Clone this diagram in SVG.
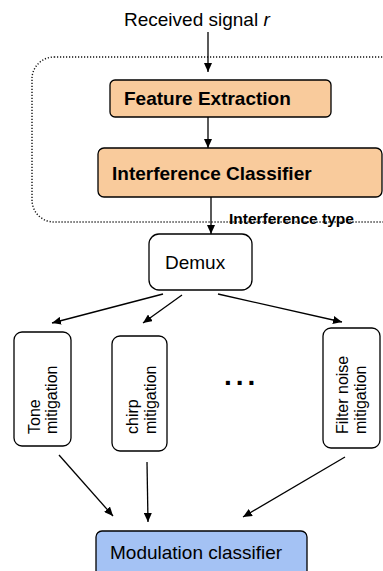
<svg xmlns="http://www.w3.org/2000/svg" width="383" height="571" viewBox="0 0 383 571">
<defs>
<style>
text{font-family:"Liberation Sans",Arial,sans-serif;fill:#000}
.box{fill:#fff;stroke:#000;stroke-width:1.3}
.peach{fill:#F9CB9C;stroke:#000;stroke-width:1.3}
.blue{fill:#A4C2F4;stroke:#000;stroke-width:1.3}
.b{font-weight:bold}
.edge{stroke:#000;stroke-width:1.3;fill:none;marker-end:url(#ah)}
.dotted{fill:none;stroke:#111;stroke-width:1.4;stroke-dasharray:1.2 1.8}
</style>
<marker id="ah" markerUnits="userSpaceOnUse" markerWidth="9" markerHeight="8" refX="9" refY="4" orient="auto">
<path d="M0,0 L9,4 L0,8 z" fill="#000"/>
</marker>
</defs>
<rect class="dotted" x="32" y="57" width="390" height="165" rx="22"/>
<text x="124" y="26" font-size="19">Received signal <tspan font-style="italic">r</tspan></text>
<g id="feature">
<rect class="peach" x="110" y="80" width="221" height="37" rx="5"/>
<text class="b" x="124" y="105" font-size="19">Feature Extraction</text>
</g>
<g id="classifier">
<rect class="peach" x="98" y="148" width="284" height="49" rx="6"/>
<text class="b" x="112" y="180" font-size="19">Interference Classifier</text>
</g>
<text class="b" x="229" y="224" font-size="15.5">Interference type</text>
<g id="demux">
<rect class="box" x="149" y="234" width="103" height="56" rx="10"/>
<text x="165" y="269" font-size="19">Demux</text>
</g>
<g id="tone">
<rect class="box" x="14" y="332" width="57" height="114" rx="8"/>
<text transform="translate(40,434) rotate(-90)" font-size="16">Tone</text>
<text transform="translate(57,434) rotate(-90)" font-size="16">mitigation</text>
</g>
<g id="chirp">
<rect class="box" x="112" y="336" width="55" height="115" rx="8"/>
<text transform="translate(138,434) rotate(-90)" font-size="16">chirp</text>
<text transform="translate(156,434) rotate(-90)" font-size="16">mitigation</text>
</g>
<g id="filter">
<rect class="box" x="323" y="328" width="57" height="120" rx="8"/>
<text transform="translate(348,434) rotate(-90)" font-size="16">Filter noise</text>
<text transform="translate(366,434) rotate(-90)" font-size="16">mitigation</text>
</g>
<text class="b" x="224" y="384.5" font-size="28" letter-spacing="4">...</text>
<g id="modulation">
<rect class="blue" x="96" y="531" width="211" height="50" rx="6"/>
<text x="110" y="559" font-size="19">Modulation classifier</text>
</g>
<g id="connectors">
<line class="edge" x1="208" y1="32" x2="208" y2="72"/>
<line class="edge" x1="208" y1="117" x2="208" y2="148"/>
<line class="edge" x1="211" y1="197" x2="211" y2="234"/>
<line class="edge" x1="163" y1="294" x2="52" y2="323"/>
<line class="edge" x1="182" y1="295" x2="143" y2="323"/>
<line class="edge" x1="218" y1="294" x2="342" y2="322"/>
<line class="edge" x1="59" y1="455" x2="113" y2="516"/>
<line class="edge" x1="147" y1="462" x2="148" y2="522"/>
<line class="edge" x1="345" y1="457" x2="243" y2="517"/>
</g>
</svg>
